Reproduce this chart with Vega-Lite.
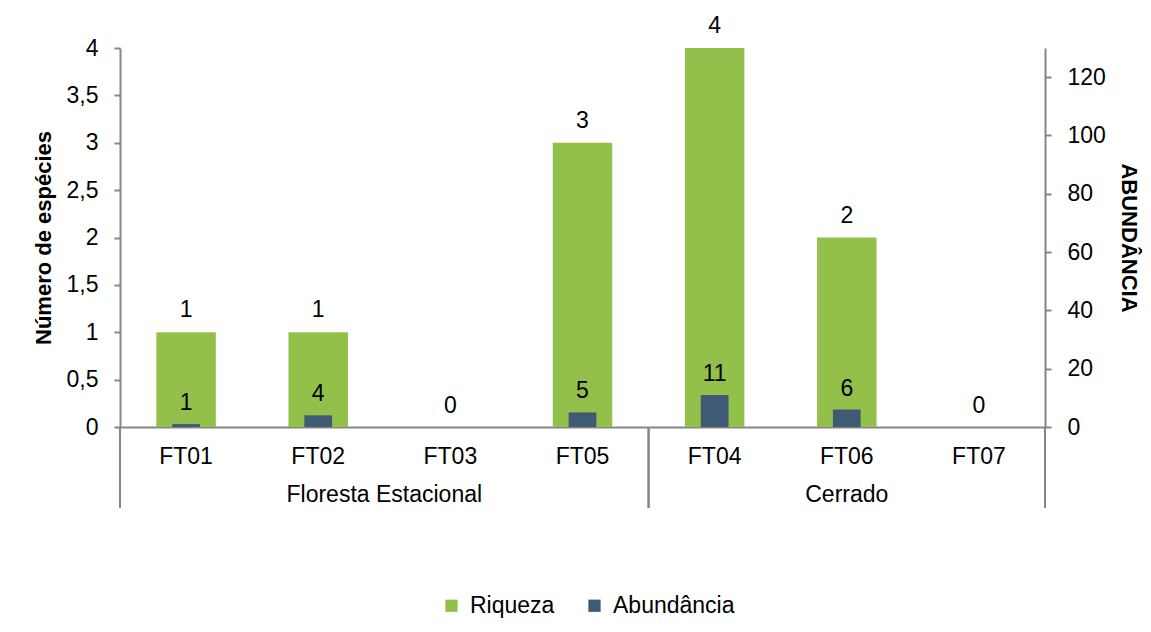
{
  "$schema": "https://vega.github.io/schema/vega-lite/v6.json",
  "width": 925,
  "height": 379,
  "autosize": {"type": "none"},
  "padding": {"left": 120, "top": 48, "right": 106, "bottom": 205},
  "background": "white",
  "config": {
    "font": "Liberation Sans",
    "view": {"stroke": null},
    "axis": {
      "grid": false,
      "domainColor": "#868686",
      "tickColor": "#868686",
      "domainWidth": 2,
      "tickWidth": 2,
      "labelFont": "Liberation Sans",
      "labelFontSize": 23,
      "labelColor": "#000000",
      "titleFont": "Liberation Sans",
      "titleColor": "#000000"
    },
    "legend": {
      "labelFont": "Liberation Sans",
      "labelFontSize": 23,
      "labelColor": "#000000"
    }
  },
  "datasets": {
    "sitios": [
      {"sitio": "FT01", "ambiente": "Floresta Estacional", "riqueza": 1, "abundancia": 1},
      {"sitio": "FT02", "ambiente": "Floresta Estacional", "riqueza": 1, "abundancia": 4},
      {"sitio": "FT03", "ambiente": "Floresta Estacional", "riqueza": 0, "abundancia": 0},
      {"sitio": "FT05", "ambiente": "Floresta Estacional", "riqueza": 3, "abundancia": 5},
      {"sitio": "FT04", "ambiente": "Cerrado", "riqueza": 4, "abundancia": 11},
      {"sitio": "FT06", "ambiente": "Cerrado", "riqueza": 2, "abundancia": 6},
      {"sitio": "FT07", "ambiente": "Cerrado", "riqueza": 0, "abundancia": 0}
    ],
    "ambientes": [
      {"ambiente": "Floresta Estacional", "inicio": 0, "fim": 4, "centro": 2},
      {"ambiente": "Cerrado", "inicio": 4, "fim": 7, "centro": 5.5}
    ]
  },
  "layer": [
    {
      "data": {"name": "sitios"},
      "encoding": {
        "x": {
          "field": "sitio",
          "type": "nominal",
          "sort": ["FT01", "FT02", "FT03", "FT05", "FT04", "FT06", "FT07"],
          "scale": {"paddingInner": 0.55, "paddingOuter": 0.275},
          "axis": {"title": null, "ticks": false, "tickSize": 0, "labelAngle": 0, "labelPadding": 18, "orient": "bottom"}
        },
        "y": {
          "field": "riqueza",
          "type": "quantitative",
          "scale": {"domain": [0, 4], "nice": false},
          "axis": {
            "orient": "left",
            "title": "Número de espécies",
            "titleFontSize": 22,
            "titleFontWeight": "bold",
            "titlePadding": 11,
            "values": [0, 0.5, 1, 1.5, 2, 2.5, 3, 3.5, 4],
            "labelExpr": "replace(toString(datum.value), '.', ',')",
            "tickSize": 6,
            "labelPadding": 16
          }
        }
      },
      "layer": [
        {
          "mark": {"type": "bar"},
          "encoding": {
            "color": {
              "datum": "Riqueza",
              "type": "nominal",
              "scale": {"domain": ["Riqueza", "Abundância"], "range": ["#93C04A", "#3F5A75"]},
              "legend": {
                "title": null,
                "orient": "none",
                "direction": "horizontal",
                "legendX": 320,
                "legendY": 546,
                "symbolType": "square",
                "symbolSize": 150,
                "symbolStrokeWidth": 0,
                "labelOffset": 7,
                "columnPadding": 28
              }
            }
          }
        },
        {
          "transform": [{"filter": "datum.riqueza > 0"}],
          "mark": {"type": "text", "baseline": "alphabetic", "dy": -15, "fontSize": 23, "color": "#000000"},
          "encoding": {"text": {"field": "riqueza", "type": "quantitative"}}
        }
      ]
    },
    {
      "data": {"name": "sitios"},
      "encoding": {
        "x": {
          "field": "sitio",
          "type": "nominal",
          "sort": ["FT01", "FT02", "FT03", "FT05", "FT04", "FT06", "FT07"],
          "scale": {"paddingInner": 0.79, "paddingOuter": 0.395},
          "axis": null
        },
        "y": {
          "field": "abundancia",
          "type": "quantitative",
          "scale": {"domain": [0, 130], "nice": false},
          "axis": {
            "orient": "right",
            "title": "ABUNDÂNCIA",
            "titleFontSize": 22,
            "titleFontWeight": "bold",
            "titlePadding": 11,
            "values": [0, 20, 40, 60, 80, 100, 120],
            "tickSize": 6,
            "labelPadding": 16
          }
        }
      },
      "layer": [
        {
          "mark": {"type": "bar"},
          "encoding": {"color": {"datum": "Abundância", "type": "nominal"}}
        },
        {
          "mark": {"type": "text", "baseline": "alphabetic", "dy": -14, "fontSize": 23, "color": "#000000"},
          "encoding": {"text": {"field": "abundancia", "type": "quantitative"}}
        }
      ]
    },
    {
      "data": {"name": "ambientes"},
      "layer": [
        {
          "mark": {"type": "rule", "color": "#868686", "strokeWidth": 2},
          "encoding": {
            "x": {"field": "inicio", "type": "quantitative", "scale": {"domain": [0, 7], "nice": false}, "axis": null},
            "y": {"datum": 0, "type": "quantitative", "scale": {"domain": [0, 4], "nice": false}, "axis": null},
            "y2": {"datum": -0.855}
          }
        },
        {
          "mark": {"type": "rule", "color": "#868686", "strokeWidth": 2},
          "encoding": {
            "x": {"field": "fim", "type": "quantitative"},
            "y": {"datum": 0, "type": "quantitative"},
            "y2": {"datum": -0.855}
          }
        },
        {
          "mark": {"type": "text", "baseline": "middle", "fontSize": 23, "color": "#000000"},
          "encoding": {
            "x": {"field": "centro", "type": "quantitative"},
            "y": {"datum": -0.72, "type": "quantitative"},
            "text": {"field": "ambiente", "type": "nominal"}
          }
        }
      ]
    }
  ],
  "resolve": {"scale": {"x": "independent", "y": "independent"}}
}
